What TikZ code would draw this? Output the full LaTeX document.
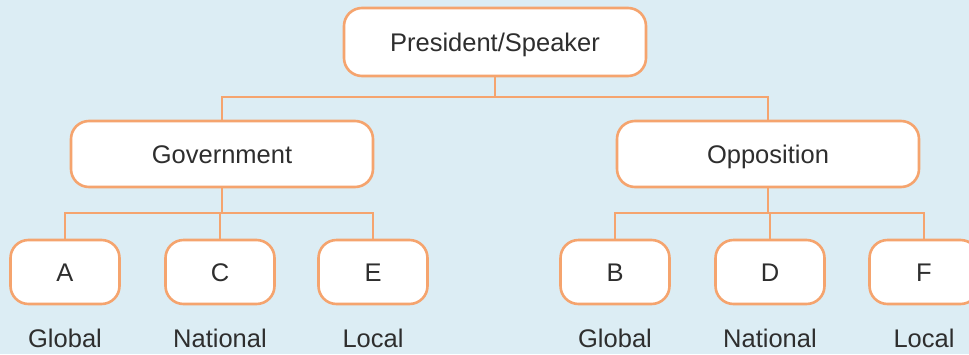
\documentclass[tikz,border=0pt]{standalone}
\usepackage{fontspec}
\setmainfont{Liberation Sans}
\definecolor{bg}{HTML}{DCEDF4}
\definecolor{orng}{HTML}{F5A46E}
\definecolor{txt}{HTML}{2E2E2E}
\begin{document}
\begin{tikzpicture}[x=1pt,y=-1pt,
  box/.style={draw=orng, line width=2.6pt, fill=white, rounded corners=18pt, text=txt,
    font=\fontsize{25.5}{30}\selectfont, inner sep=0pt, text height=18.3pt, text depth=0pt},
  bigbox/.style={box, minimum width=302pt, minimum height=66pt},
  smallbox/.style={box, minimum width=109pt, minimum height=64pt},
  lbl/.style={text=txt, font=\fontsize{25.5}{30}\selectfont, inner sep=0pt, text height=18.3pt, text depth=0pt},
  conn/.style={draw=orng, line width=2.6pt}]
\useasboundingbox[fill=bg] (0,0) rectangle (969,354);
\coordinate (j0) at (495,97);
\coordinate (j1) at (222,213);
\coordinate (j2) at (768,213);
\node[bigbox, minimum height=68pt] (pres) at (495,42) {President/Speaker};
\node[bigbox] (gov) at (222,154) {Government};
\node[bigbox] (opp) at (768,154) {Opposition};
\node[smallbox] (a) at (65,272) {A};
\node[smallbox] (c) at (220,272) {C};
\node[smallbox] (e) at (373,272) {E};
\node[smallbox] (b) at (615,272) {B};
\node[smallbox] (d) at (770,272) {D};
\node[smallbox] (f) at (924,272) {F};
\node[lbl] (ga) at (65,338) {Global};
\node[lbl] (nc) at (220,338) {National};
\node[lbl] (le) at (373,338) {Local};
\node[lbl] (gb) at (615,338) {Global};
\node[lbl] (nd) at (770,338) {National};
\node[lbl] (lf) at (924,338) {Local};
\draw[conn] (pres.south) -- (j0);
\draw[conn] (gov.north) |- (j0) -| (opp.north);
\draw[conn] (gov.south) -- (j1);
\draw[conn] (a.north) |- (j1) -| (e.north);
\draw[conn] (c.north) -- (c.north |- j1);
\draw[conn] (opp.south) -- (j2);
\draw[conn] (b.north) |- (j2) -| (f.north);
\draw[conn] (d.north) -- (d.north |- j2);
\end{tikzpicture}
\end{document}
